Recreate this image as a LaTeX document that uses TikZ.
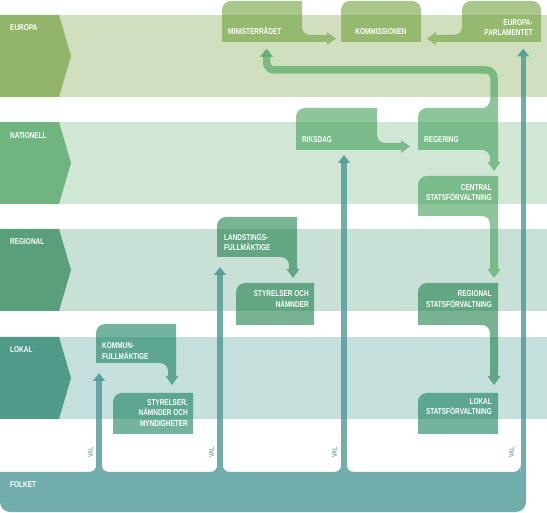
\documentclass[tikz,border=0pt]{standalone}
\usepackage{fontspec}
\newfontfamily\lbl{Liberation Sans Bold}[FakeStretch=0.76]
\usetikzlibrary{arrows.meta}

\definecolor{bandeu}{HTML}{D0DFBD}
\definecolor{darkeu}{HTML}{93B56A}
\definecolor{boxeu}{HTML}{70A03E}
\definecolor{bandnat}{HTML}{D0E7D5}
\definecolor{darknat}{HTML}{70B57F}
\definecolor{boxnat}{HTML}{41A057}
\definecolor{bandreg}{HTML}{C8E0D6}
\definecolor{darkreg}{HTML}{5A9F7C}
\definecolor{boxreg}{HTML}{1E804D}
\definecolor{bandlok}{HTML}{C5DFDC}
\definecolor{darklok}{HTML}{4F9A88}
\definecolor{boxlok}{HTML}{168061}
\definecolor{folk}{HTML}{70ADAB}
\definecolor{folkline}{HTML}{4C9896}

% box shapes: {style}{x0}{top}{x1}{bottom}{tip}
\newcommand\tlbox[5]{\fill[#1] (#2,#5) -- (#2,#3+9) arc[start angle=180,end angle=270,radius=9] -- (#4,#3) -- (#4,#5) -- cycle;}
\newcommand\rtailbox[6]{\fill[#1] (#2,#5) -- (#2,#3+9) arc[start angle=180,end angle=270,radius=9] -- (#4,#3) -- (#4,#5-15) arc[start angle=180,end angle=90,radius=8] -- (#6-9,#5-7) -- (#6-9,#5-10) -- (#6,#5-3.5) -- (#6-9,#5+3) -- (#6-9,#5) -- cycle;}
\newcommand\dtailbox[6]{\fill[#1] (#2,#5) -- (#2,#3+9) arc[start angle=180,end angle=270,radius=9] -- (#4,#3) -- (#4,#6-9) -- (#4+2.5,#6-9) -- (#4-4,#6) -- (#4-10.5,#6-9) -- (#4-8,#6-9) -- (#4-8,#5+8) arc[start angle=0,end angle=-90,radius=8] -- cycle;}

\begin{document}
\begin{tikzpicture}[x=1pt, y=-1pt,
    eubox/.style={fill=boxeu, fill opacity=0.6},
    natbox/.style={fill=boxnat, fill opacity=0.6},
    regbox/.style={fill=boxreg, fill opacity=0.6},
    lokbox/.style={fill=boxlok, fill opacity=0.6},
    natline/.style={draw=boxnat, opacity=0.6, line width=7.5pt, rounded corners=8pt, -{Triangle[width=13pt,length=8.5pt]}},
    valline/.style={draw=folkline, opacity=0.8, line width=5.5pt, -{Triangle[width=12pt,length=8pt]}},
    boxtext/.style={text=white, inner sep=0pt, font=\lbl\fontsize{8.5}{10.5}\selectfont},
    val/.style={text=folk, inner sep=0pt, rotate=90, font=\lbl\fontsize{7}{8}\selectfont}]
  \useasboundingbox (0,0) rectangle (547,513);

  % Nivåer
  \foreach \y/\c in {15/eu,122/nat,229/reg,337/lok} {
    \fill[band\c] (0,\y) rectangle (547,\y+82);
    \fill[dark\c] (0,\y) -- (59,\y) -- (71,\y+41) -- (59,\y+82) -- (0,\y+82) -- cycle;
  }

  % Folket och val
  \coordinate (v1) at (99,480);
  \coordinate (v2) at (220,480);
  \coordinate (v3) at (344,480);
  \coordinate (v4) at (523.25,480);
  \coordinate (kf) at (99,373);
  \coordinate (lf) at (220,267);
  \coordinate (rd) at (344,155);
  \coordinate (ep) at (523.25,48.5);
  \draw[valline] (v1) -- (kf);
  \draw[valline] (v2) -- (lf);
  \draw[valline] (v3) -- (rd);
  \draw[valline] (v4) -- (ep);
  \fill[folk] (0,472) -- (0,502) arc[start angle=180,end angle=90,radius=10] -- (516,512) arc[start angle=90,end angle=0,radius=10] -- (526,472) -- cycle;
  \foreach \x in {99,220,344,523.25}
    \fill[folk] (\x-9.75,472) -- (\x-2.75,472) -- (\x-2.75,465) arc[start angle=0,end angle=90,radius=7] -- cycle;
  \foreach \x in {99,220,344}
    \fill[folk] (\x+9.75,472) -- (\x+2.75,472) -- (\x+2.75,465) arc[start angle=180,end angle=90,radius=7] -- cycle;

  % Regering -> ministerrådet
  \coordinate (regtop) at (494,100);
  \coordinate (minbot) at (266.5,48.5);
  \draw[natline] (regtop) -- ++(0,-30) -| (minbot);

  % Rutor
  \rtailbox{eubox}{222}{1}{302}{42}{336}
  \fill[eubox] (341,42) -- (341,10) arc[start angle=180,end angle=270,radius=9] -- (412,1) arc[start angle=270,end angle=360,radius=9] -- (421,42) -- cycle;
  \fill[eubox] (541,42) -- (541,10) arc[start angle=0,end angle=-90,radius=9] -- (471,1) arc[start angle=270,end angle=180,radius=9] -- (462,27) arc[start angle=0,end angle=90,radius=8] -- (436,35) -- (436,32) -- (427,38.5) -- (436,45) -- (436,42) -- cycle;
  \rtailbox{natbox}{296}{108}{377}{150}{410}
  \fill[natbox] (418,150) -- (418,117) arc[start angle=180,end angle=270,radius=9] -- (482,108) arc[start angle=90,end angle=0,radius=8] -- (498,100) -- (498,162) -- (500.5,162) -- (494,171) -- (487.5,162) -- (490,162) -- (490,158) arc[start angle=0,end angle=-90,radius=8] -- cycle;
  \dtailbox{natbox}{418}{176}{498}{216}{278}
  \dtailbox{regbox}{217}{217}{297}{257}{278}
  \tlbox{regbox}{236}{283}{314}{325}
  \dtailbox{regbox}{418}{283}{498}{325}{385}
  \dtailbox{lokbox}{96}{324}{176}{363}{385}
  \tlbox{lokbox}{113}{393}{193}{434}
  \tlbox{lokbox}{418}{393}{498}{434}

  % Texter
  \node[boxtext, anchor=base west] (europa) at (10,31) {EUROPA};
  \node[boxtext, anchor=base west] (nationell) at (10,138.5) {NATIONELL};
  \node[boxtext, anchor=base west] (regional) at (10,245) {REGIONAL};
  \node[boxtext, anchor=base west] (lokal) at (10,352.5) {LOKAL};
  \node[boxtext, anchor=base west] (folket) at (10,487.5) {FOLKET};

  \node[boxtext, anchor=base west] (minrad) at (228,34.5) {MINISTERRÅDET};
  \node[boxtext, anchor=base] (kommission) at (381,34.5) {KOMMISSIONEN};
  \node[boxtext, anchor=north east, align=right] (parlament) at (533,19) {EUROPA-\\PARLAMENTET};
  \node[boxtext, anchor=base west] (riksdag) at (302,143) {RIKSDAG};
  \node[boxtext, anchor=base west] (regering) at (424,143) {REGERING};
  \node[boxtext, anchor=north east, align=right] (central) at (492,184) {CENTRAL\\STATSFÖRVALTNING};
  \node[boxtext, anchor=north west, align=left] (landsting) at (224,234) {LANDSTINGS-\\FULLMÄKTIGE};
  \node[boxtext, anchor=north east, align=right] (styrreg) at (309,290.5) {STYRELSER OCH\\NÄMNDER};
  \node[boxtext, anchor=north east, align=right] (regstat) at (492,290.5) {REGIONAL\\STATSFÖRVALTNING};
  \node[boxtext, anchor=north west, align=left] (kommun) at (102,342.5) {KOMMUN-\\FULLMÄKTIGE};
  \node[boxtext, anchor=north east, align=right] (styrlok) at (188,399) {STYRELSER,\\NÄMNDER OCH\\MYNDIGHETER};
  \node[boxtext, anchor=north east, align=right] (lokstat) at (492,398) {LOKAL\\STATSFÖRVALTNING};

  \node[val] (val1) at (90.5,452.5) {VAL};
  \node[val] (val2) at (211.5,452.5) {VAL};
  \node[val] (val3) at (334.5,452.5) {VAL};
  \node[val] (val4) at (511.5,452.5) {VAL};
\end{tikzpicture}
\end{document}
